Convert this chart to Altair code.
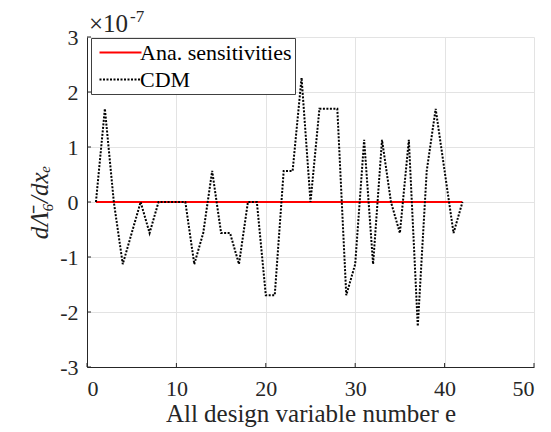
import altair as alt
import pandas as pd

design_vars = list(range(1, 43))
cdm_values = [0, 1.695, 0, -1.13, -0.565, 0, -0.565, 0, 0, 0,
              0, -1.13, -0.565, 0.565, -0.565, -0.565, -1.13, 0, 0, -1.695,
              -1.695, 0.565, 0.565, 2.26, 0, 1.695, 1.695, 1.695, -1.695, -1.13,
              1.13, -1.13, 1.13, 0, -0.565, 1.13, -2.26, 0.565, 1.695, 0.565,
              -0.565, 0]
ana_values = [0.0] * 42
series_names = ["Ana. sensitivities", "CDM"]
x_ticks = [0, 10, 20, 30, 40, 50]
y_ticks = [-3, -2, -1, 0, 1, 2, 3]

rows = []
for xv, v in zip(design_vars, ana_values):
    rows.append({"x": xv, "v": v, "series": series_names[0]})
for xv, v in zip(design_vars, cdm_values):
    rows.append({"x": xv, "v": v, "series": series_names[1]})
df = pd.DataFrame(rows)

FONT = "Liberation Serif"
INK = "#262626"
W, H = 447, 330

xs = alt.Scale(domain=[0, 50], nice=False)
ys = alt.Scale(domain=[-3, 3], nice=False)

lines = alt.Chart(df).mark_line(strokeWidth=2, clip=True).encode(
    x=alt.X("x:Q", scale=xs,
            axis=alt.Axis(values=x_ticks, title="All design variable number e",
                          grid=True, labelFontSize=22, titleFontSize=25,
                          labelFont=FONT, titleFont=FONT, titleFontWeight="normal",
                          labelPadding=11, titlePadding=2)),
    y=alt.Y("v:Q", scale=ys,
            axis=alt.Axis(values=y_ticks, title="dΛ̄₆/dxₑ",
                          labelExpr="datum.value < 0 ? '-' + abs(datum.value) : '' + datum.value",
                          grid=True, labelFontSize=22, titleFontSize=25,
                          labelFont=FONT, titleFont=FONT, titleFontWeight="normal",
                          titleFontStyle="italic", labelPadding=9, titlePadding=7)),
    color=alt.Color("series:N", scale=alt.Scale(domain=series_names, range=["#ff0000", "#000000"]),
                    legend=alt.Legend(title=None, orient="none", legendX=4, legendY=1,
                                      symbolType="M-2,0H2", symbolSize=441,
                                      symbolStrokeWidth=2, symbolOffset=15,
                                      labelFontSize=22,
                                      labelFont=FONT, labelColor="#000000",
                                      labelOffset=8, padding=3, rowPadding=4,
                                      strokeColor="#404040", fillColor="white",
                                      labelLimit=300, offset=0)),
    strokeDash=alt.StrokeDash("series:N",
                              scale=alt.Scale(domain=series_names, range=[[1, 0], [2, 1.5]]),
                              legend=None),
    order=alt.Order("x:Q"),
)

xtick_marks = alt.Chart(pd.DataFrame({"t": x_ticks})).mark_rule(color=INK, strokeWidth=1).encode(
    x=alt.X("t:Q", scale=xs), y=alt.value(H), y2=alt.value(H - 4))
ytick_marks = alt.Chart(pd.DataFrame({"t": y_ticks})).mark_rule(color=INK, strokeWidth=1).encode(
    y=alt.Y("t:Q", scale=ys), x=alt.value(0), x2=alt.value(4))

exp_base = alt.Chart(pd.DataFrame({"t": ["×10"]})).mark_text(
    font=FONT, fontSize=25, align="left", baseline="alphabetic", color=INK
).encode(text="t:N", x=alt.value(2), y=alt.value(-5))

exp_sup = alt.Chart(pd.DataFrame({"t": ["-7"]})).mark_text(
    font=FONT, fontSize=17, align="left", baseline="alphabetic", color=INK
).encode(text="t:N", x=alt.value(43), y=alt.value(-15))

chart = alt.layer(xtick_marks, ytick_marks, lines, exp_base, exp_sup).properties(
    width=W, height=H,
    background="white",
    autosize=alt.AutoSizeParams(type="none"),
    padding={"left": 87, "top": 37, "right": 17, "bottom": 65},
).configure_view(stroke=None).configure_axis(
    labelFont=FONT, titleFont=FONT, labelColor=INK, titleColor=INK,
    domainColor=INK, tickColor=INK, ticks=False,
    gridColor="#e3e3e3", gridWidth=1, titleFontWeight="normal",
)

chart.save("out.html", embed_options={"renderer": "svg", "actions": False})
